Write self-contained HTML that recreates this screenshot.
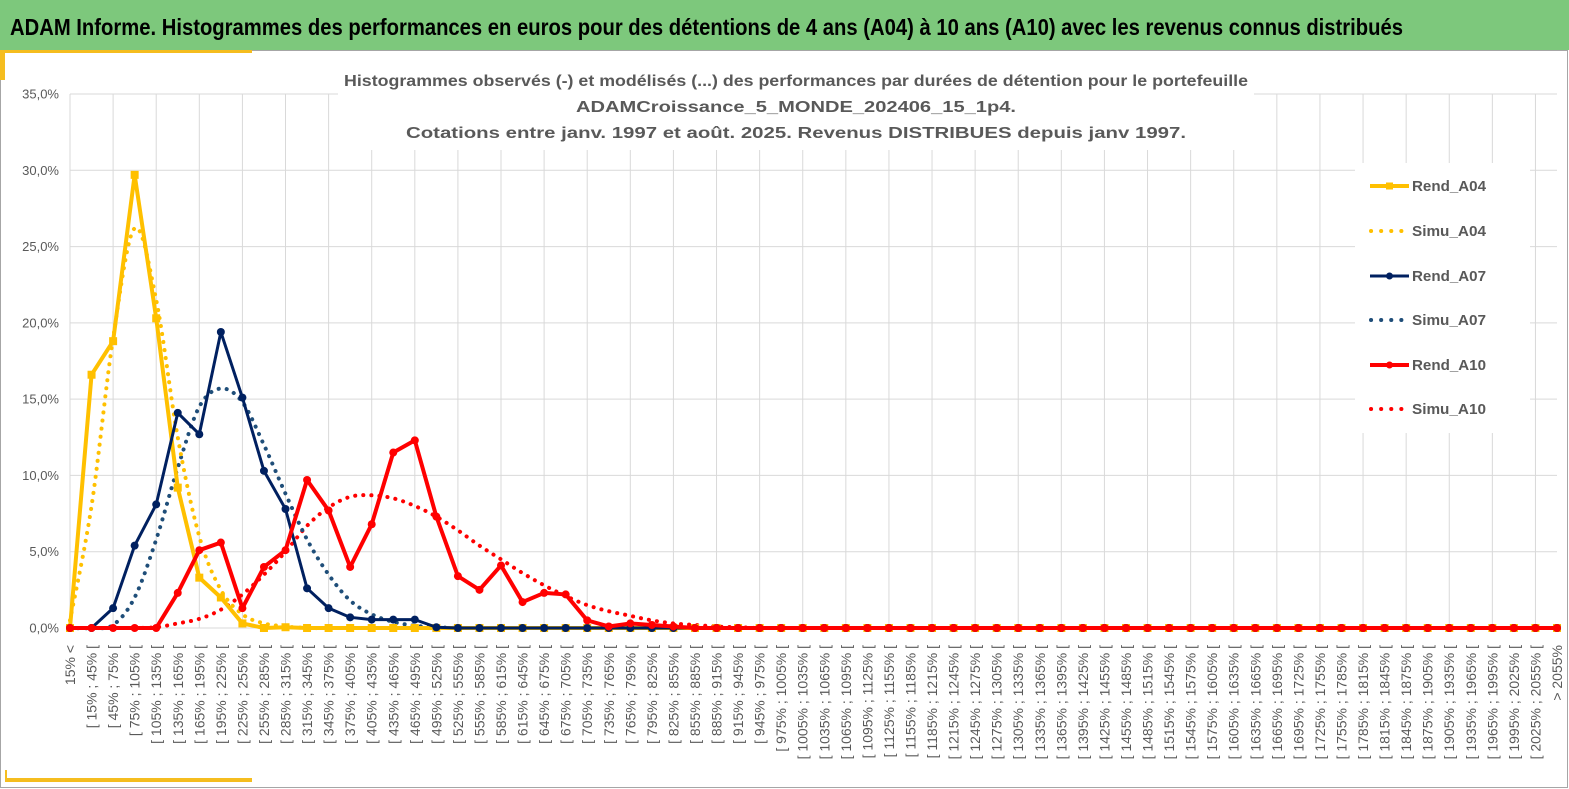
<!DOCTYPE html>
<html><head><meta charset="utf-8"><style>
html,body{margin:0;padding:0;background:#fff;}
svg{display:block;font-family:"Liberation Sans",sans-serif;}
</style></head><body>
<svg id="chart" width="1569" height="789" viewBox="0 0 1569 789" xmlns="http://www.w3.org/2000/svg">
<rect x="0" y="0" width="1569" height="789" fill="#fff"/>
<rect x="0" y="0" width="1569" height="50" fill="#7dc87c"/>
<text x="10" y="35" font-size="23" font-weight="bold" fill="#000" textLength="1393" lengthAdjust="spacingAndGlyphs">ADAM Informe. Histogrammes des performances en euros pour des détentions de 4 ans (A04) à 10 ans (A10) avec les revenus connus distribués</text>
<rect x="0.5" y="50.5" width="1567" height="737" fill="none" stroke="#a6a6a6"/>
<rect x="0" y="50" width="252" height="3" fill="#f5bd1f"/>
<rect x="0" y="50" width="5" height="30" fill="#f5bd1f"/>
<rect x="5" y="770" width="2" height="12" fill="#f5bd1f"/>
<rect x="5" y="778" width="247" height="4" fill="#f5bd1f"/>
<g id="grid"></g>
<g id="ylabels"></g>
<g id="xlabels"></g>
<rect x="338" y="66" width="916" height="84" fill="#fff"/>
<g font-weight="bold" font-size="16" fill="#595959" text-anchor="middle">
<text x="796" y="86" textLength="904" lengthAdjust="spacingAndGlyphs">Histogrammes observés (-) et modélisés (...) des performances par durées de détention pour le portefeuille</text>
<text x="796" y="112" textLength="440" lengthAdjust="spacingAndGlyphs">ADAMCroissance_5_MONDE_202406_15_1p4.</text>
<text x="796" y="138" textLength="780" lengthAdjust="spacingAndGlyphs">Cotations entre janv. 1997 et août. 2025. Revenus DISTRIBUES depuis janv 1997.</text>
</g>
<g id="series"></g>
<rect x="1355" y="163" width="175" height="270" fill="#fff"/>
<g id="legend"></g>
</svg>
<script>
const categories = ["15% <"];
for (let k = 0; k < 68; k++) categories.push("[ " + (15 + 30 * k) + "% ; " + (45 + 30 * k) + "% [");
categories.push("> 2055%");
const yTicks = [0, 5, 10, 15, 20, 25, 30, 35];
const yTickLabels = ["0,0%", "5,0%", "10,0%", "15,0%", "20,0%", "25,0%", "30,0%", "35,0%"];
const rendA04 = [0, 16.6, 18.8, 29.7, 20.3, 9.2, 3.3, 2.0, 0.3, 0, 0.05];
const simuA04 = [0.5, 8, 19, 26.2, 21.5, 12.5, 6, 2.5, 0.9, 0.3, 0.1, 0];
const rendA07 = [0, 0, 1.3, 5.4, 8.1, 14.1, 12.7, 19.4, 15.1, 10.3, 7.8, 2.6, 1.3, 0.7, 0.55, 0.55, 0.55, 0.05];
const simuA07 = [0, 0, 0.2, 2, 5.8, 10.5, 14.5, 15.7, 14.8, 12, 8.8, 5.8, 3.5, 1.8, 0.9, 0.4, 0.15, 0.05];
const rendA10 = [0, 0, 0, 0, 0, 2.3, 5.1, 5.6, 1.3, 4.0, 5.1, 9.7, 7.7, 4.0, 6.8, 11.5, 12.3, 7.3, 3.4, 2.5, 4.1, 1.7, 2.3, 2.2, 0.5, 0.1, 0.3, 0.2, 0.1];
const simuA10 = [0, 0, 0, 0, 0.05, 0.3, 0.6, 1.2, 2.2, 3.5, 5, 6.7, 7.9, 8.6, 8.7, 8.5, 8.0, 7.3, 6.4, 5.4, 4.5, 3.6, 2.8, 2.1, 1.5, 1.1, 0.8, 0.5, 0.3, 0.2, 0.1, 0.05];
const seriesNames = ["Rend_A04", "Simu_A04", "Rend_A07", "Simu_A07", "Rend_A10", "Simu_A10"];

const NS = "http://www.w3.org/2000/svg";
const X0 = 70, X1 = 1557, Y0 = 628, Y1 = 94, YMAX = 35;
const N = categories.length;
function xs(i) { return X0 + i * (X1 - X0) / (N - 1); }
function ys(v) { return Y0 - v / YMAX * (Y0 - Y1); }
function mk(tag, attrs, parent) {
  const e = document.createElementNS(NS, tag);
  for (const k in attrs) e.setAttribute(k, attrs[k]);
  parent.appendChild(e);
  return e;
}
function full(arr) { const a = []; for (let i = 0; i < N; i++) a.push(i < arr.length ? arr[i] : 0); return a; }

const grid = document.getElementById("grid");
yTicks.forEach(function (t) {
  const l = mk("line", {x1: X0, x2: X1, y1: ys(t), y2: ys(t), stroke: "#d9d9d9", "stroke-width": 1}, grid);
  
  
});
for (let i = 0; i < N; i += 2) {
  const l = mk("line", {x1: xs(i), x2: xs(i), y1: Y1, y2: Y0, stroke: "#d9d9d9", "stroke-width": 1}, grid);
  
  
}
const yl = document.getElementById("ylabels");
yTicks.forEach(function (t, i) {
  const tx = mk("text", {x: 59, y: ys(t) + 4.5, "text-anchor": "end", "font-size": 13, fill: "#595959"}, yl);
  tx.textContent = yTickLabels[i];
  
  
});
const xl = document.getElementById("xlabels");
categories.forEach(function (c, i) {
  const x = xs(i) + 5, y = 645;
  const tx = mk("text", {x: x, y: y, "text-anchor": "end", "font-size": 14, fill: "#595959", transform: "rotate(-90 " + x + " " + y + ")"}, xl);
  tx.textContent = c;
  
  
});

function smoothPath(pts) {
  let d = "M" + pts[0][0] + "," + pts[0][1];
  for (let i = 0; i < pts.length - 1; i++) {
    const p0 = pts[i - 1] || pts[i], p1 = pts[i], p2 = pts[i + 1], p3 = pts[i + 2] || p2;
    const c1x = p1[0] + (p2[0] - p0[0]) / 6, c1y = p1[1] + (p2[1] - p0[1]) / 6;
    const c2x = p2[0] - (p3[0] - p1[0]) / 6, c2y = p2[1] - (p3[1] - p1[1]) / 6;
    d += " C" + c1x + "," + c1y + " " + c2x + "," + c2y + " " + p2[0] + "," + p2[1];
  }
  return d;
}
const sg = document.getElementById("series");
function drawSim(arr, color, name) {
  const pts = full(arr).map(function (v, i) { return [xs(i), ys(v)]; });
  const p = mk("path", {d: smoothPath(pts), fill: "none", stroke: color, "stroke-width": 4, "stroke-linecap": "round", "stroke-dasharray": "0.1 8"}, sg);
  
  
}
function drawRend(arr, color, width, marker, name) {
  const vals = full(arr);
  const pts = vals.map(function (v, i) { return xs(i) + "," + ys(v); }).join(" ");
  const p = mk("polyline", {points: pts, fill: "none", stroke: color, "stroke-width": width, "stroke-linejoin": "round"}, sg);
  
  
  vals.forEach(function (v, i) {
    let m;
    if (marker === "square") m = mk("rect", {x: xs(i) - 4, y: ys(v) - 4, width: 8, height: 8, fill: color}, sg);
    else m = mk("circle", {cx: xs(i), cy: ys(v), r: 4, fill: color}, sg);
    
    
  });
}
const YEL = "#ffc000", NAVY = "#002060", BLUE = "#1f4e79", RED = "#ff0000";
drawSim(simuA10, RED, "simu-a10-line");
drawSim(simuA07, BLUE, "simu-a07-line");
drawSim(simuA04, YEL, "simu-a04-line");
drawRend(rendA04, YEL, 4, "square", "rend-a04");
drawRend(rendA07, NAVY, 3, "circle", "rend-a07");
drawRend(rendA10, RED, 4, "circle", "rend-a10");

const lg = document.getElementById("legend");
const lgColors = [YEL, YEL, NAVY, BLUE, RED, RED];
const lgY = [186, 231, 276, 320, 365, 409];
seriesNames.forEach(function (n, i) {
  const g = mk("g", {}, lg);
  
  
  const y = lgY[i];
  if (i % 2 === 0) {
    mk("line", {x1: 1370, x2: 1409, y1: y, y2: y, stroke: lgColors[i], "stroke-width": i === 2 ? 3 : 4}, g);
    if (i === 0) mk("rect", {x: 1386, y: y - 3.5, width: 7, height: 7, fill: lgColors[i]}, g);
    else mk("circle", {cx: 1389.5, cy: y, r: 3.5, fill: lgColors[i]}, g);
  } else {
    mk("line", {x1: 1371, x2: 1403, y1: y, y2: y, stroke: lgColors[i], "stroke-width": 4, "stroke-linecap": "round", "stroke-dasharray": "0.1 10"}, g);
  }
  const t = mk("text", {x: 1412, y: y + 5, "font-size": 15, "font-weight": "bold", fill: "#595959", textLength: 74, lengthAdjust: "spacingAndGlyphs"}, g);
  t.textContent = n;
});
</script>
</body></html>
